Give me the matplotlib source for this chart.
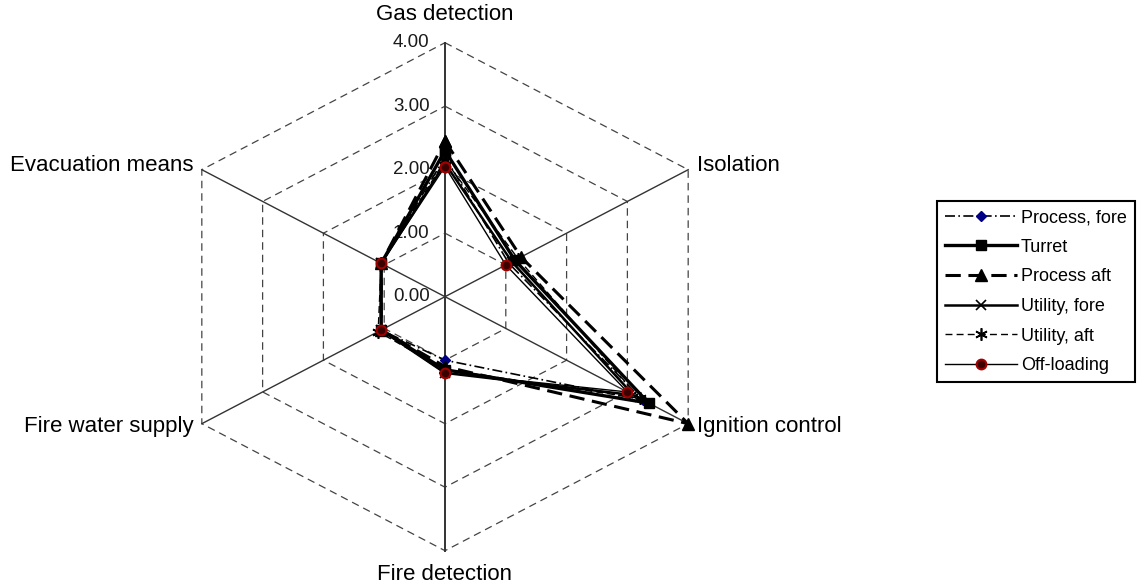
import numpy as np
import matplotlib
matplotlib.use('Agg')
import matplotlib.pyplot as plt

plt.rcParams['font.family'] = ['Liberation Sans', 'DejaVu Sans']

# ---- data ----
categories = ['Gas detection', 'Isolation', 'Ignition control',
              'Fire detection', 'Fire water supply', 'Evacuation means']
rings = [0, 1, 2, 3, 4]

process_fore = [2.20, 1.05, 3.25, 1.00, 1.05, 1.05]
turret = [2.30, 1.15, 3.35, 1.15, 1.05, 1.05]
process_aft = [2.45, 1.25, 4.00, 1.10, 1.05, 1.05]
utility_fore = [2.10, 1.10, 3.10, 1.20, 1.05, 1.05]
utility_aft = [2.15, 1.20, 3.20, 1.15, 1.10, 1.05]
off_loading = [2.05, 1.00, 3.00, 1.20, 1.05, 1.05]

# ---- figure: plain axes, radar drawn from angles ----
fig = plt.figure(figsize=(11.45, 5.86), dpi=100)
ax = fig.add_axes([0, 0, 1, 1])
cx, cy = 445.0, 296.7          # centre in pixels
sx, sy = 70.2, 63.5            # pixels per unit (chart is wider than tall)
ax.set_xlim(-cx / sx, (1145 - cx) / sx)
ax.set_ylim(-(586 - cy) / sy, cy / sy)
ax.axis('off')

theta = np.deg2rad(90 - 60 * np.arange(len(categories)))


def xy(vals):
    v = np.asarray(vals, dtype=float)
    v = np.append(v, v[0])
    t = np.append(theta, theta[0])
    return v * np.cos(t), v * np.sin(t)


# grid hexagons
for r in rings[1:]:
    gx, gy = xy([r] * len(categories))
    ax.plot(gx, gy, color='#444444', lw=0.9, dashes=(6, 4), zorder=1)

# spokes
for i, t in enumerate(theta):
    lw = 1.4 if i in (0, 3) else 1.0
    ax.plot([0, 4 * np.cos(t)], [0, 4 * np.sin(t)], color='#333333', lw=lw, zorder=1)

# ring labels along the top spoke
for r in rings:
    ax.annotate('%.2f' % r, xy=(0, r), xytext=(-11, 0), textcoords='offset points',
                ha='right', va='center', fontsize=13.5, color='#1a1a1a')

# category labels
offsets = [(0, 20, 'center'), (6, 3, 'left'), (6, -2, 'left'),
           (0, -17, 'center'), (-6, -2, 'right'), (-6, 3, 'right')]
for i, name in enumerate(categories):
    px, py = 4 * np.cos(theta[i]), 4 * np.sin(theta[i])
    dx, dy, ha = offsets[i]
    ax.annotate(name, xy=(px, py), xytext=(dx, dy), textcoords='offset points',
                ha=ha, va='center', fontsize=16, color='black')

# series
x, y = xy(process_fore)
ax.plot(x, y, color='black', lw=1.2, dashes=(6, 2, 1, 2), marker='D', ms=5,
        mfc='#000080', mec='#000080', label='Process, fore', zorder=3)
x, y = xy(turret)
ax.plot(x, y, color='black', lw=2.4, marker='s', ms=7, label='Turret', zorder=3)
x, y = xy(process_aft)
ax.plot(x, y, color='black', lw=2.2, dashes=(5, 2.5), marker='^', ms=9,
        label='Process aft', zorder=3)
x, y = xy(utility_fore)
ax.plot(x, y, color='black', lw=1.8, marker='x', ms=7, mew=1.2,
        label='Utility, fore', zorder=3)
x, y = xy(utility_aft)
ax.plot(x, y, color='black', lw=1.0, dashes=(5, 3), marker=(6, 2, 0), ms=9, mew=1.2,
        label='Utility, aft', zorder=3)
x, y = xy(off_loading)
ax.plot(x, y, color='black', lw=1.0, marker='o', ms=7, mfc='#3a0000',
        mec='#a00000', mew=1.5, label='Off-loading', zorder=4)

leg = ax.legend(loc='upper left', bbox_to_anchor=(937 / 1145, 1 - 201 / 586),
                bbox_transform=fig.transFigure, borderaxespad=0, fontsize=13,
                handlelength=4.0, labelspacing=0.7, handletextpad=0.2,
                borderpad=0.45, fancybox=False, framealpha=1)
leg.get_frame().set_edgecolor('black')
leg.get_frame().set_linewidth(1.5)

fig.savefig('out.png', dpi=100)
